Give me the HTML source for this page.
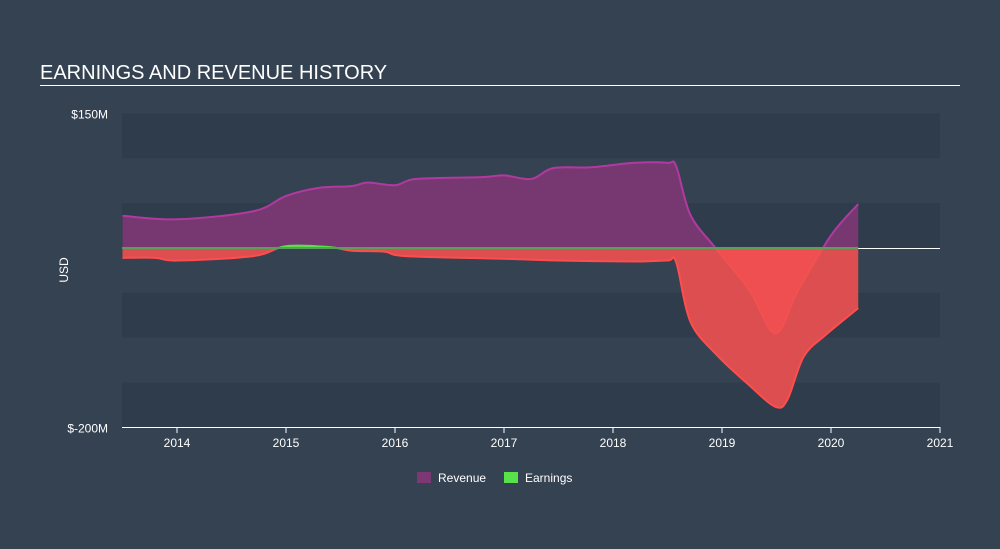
<!DOCTYPE html>
<html><head><meta charset="utf-8">
<style>
html,body{margin:0;padding:0;background:#344252;}
body{width:1000px;height:544px;overflow:hidden;font-family:"Liberation Sans",sans-serif;}
</style></head>
<body>
<svg id="chart" width="1000" height="544" xmlns="http://www.w3.org/2000/svg">
<rect width="1000" height="544" fill="#344252"/>
<text x="40" y="79" fill="#ffffff" font-size="20">EARNINGS AND REVENUE HISTORY</text>
<line x1="40" y1="85.5" x2="960" y2="85.5" stroke="#ffffff" stroke-width="1"/>
<g id="bands"></g>
<g id="areas"></g>
<g id="axes"></g>
<text x="68" y="270" fill="#ffffff" font-size="12" transform="rotate(-90 68 270)" text-anchor="middle">USD</text>
<g>
<rect x="417" y="472" width="14" height="11" fill="#7b3873"/>
<text x="438" y="482" fill="#ffffff" font-size="12">Revenue</text>
<rect x="504" y="472" width="14" height="11" fill="#58e14a"/>
<text x="525" y="482" fill="#ffffff" font-size="12">Earnings</text>
</g>
</svg>
<script>
const revT=[2013.5,2014,2014.7,2015,2015.3,2015.6,2015.75,2016,2016.2,2016.8,2017,2017.25,2017.45,2017.8,2018.2,2018.5,2018.58,2018.71,2018.94,2019.25,2019.49,2019.7,2020,2020.25];
const revV=[36,32,41,58,67,69,73,70,77,79,81,77,89,90,95,95,91,37,0,-47,-95,-47,14,49];
const earnT=[2013.5,2013.8,2014,2014.7,2015,2015.4,2015.6,2015.9,2016.1,2017,2017.5,2018.2,2018.5,2018.58,2018.71,2018.95,2019.25,2019.49,2019.6,2019.75,2019.95,2020.25];
const earnV=[-11,-11,-14,-9,2,1,-3,-4,-9,-12,-14,-15,-14,-16,-82,-119,-153,-177,-169,-121,-97,-67];
const yTicks=[150,-200];
const yTickLabels=["$150M","$-200M"];
const xTicks=[2014,2015,2016,2017,2018,2019,2020,2021];
const NS="http://www.w3.org/2000/svg";
const X=t=>177+(t-2014)*109;
const Y=v=>248-v*0.897;
const plotL=122,plotR=940;
function mk(tag,at,parent){const e=document.createElementNS(NS,tag);for(const k in at)e.setAttribute(k,at[k]);parent.appendChild(e);return e;}
const bands=document.getElementById('bands');
for(let i=0;i<7;i++){
 const y0=Y(150)+i*(Y(-200)-Y(150))/7,h=(Y(-200)-Y(150))/7;
 const r=mk('rect',{x:plotL,y:y0,width:plotR-plotL,height:h,fill:i%2==0?'#2e3c4b':'#344252'},bands);
 
 
}
function smooth(ts,vs){
 const p=ts.map((t,i)=>[X(t),Y(vs[i])]);
 let d='M'+p[0][0]+','+p[0][1];
 for(let i=0;i<p.length-1;i++){
  const p0=p[i-1]||p[i],p1=p[i],p2=p[i+1],p3=p[i+2]||p2;
  const c1=[p1[0]+(p2[0]-p0[0])/6,p1[1]+(p2[1]-p0[1])/6];
  const c2=[p2[0]-(p3[0]-p1[0])/6,p2[1]-(p3[1]-p1[1])/6];
  d+=` C${c1[0]},${c1[1]} ${c2[0]},${c2[1]} ${p2[0]},${p2[1]}`;
 }
 return {d,first:p[0],last:p[p.length-1]};
}
const areas=document.getElementById('areas');
const defs=mk('defs',{},areas);
const cpA=mk('clipPath',{id:'above'},defs);mk('rect',{x:0,y:0,width:1000,height:Y(0)},cpA);
const cpB=mk('clipPath',{id:'below'},defs);mk('rect',{x:0,y:Y(0),width:1000,height:400},cpB);
function area(ts,vs,pos,neg,linePos,lineNeg,name){
 const s=smooth(ts,vs);
 const fd=s.d+` L${s.last[0]},${Y(0)} L${s.first[0]},${Y(0)} Z`;
 const a=mk('path',{d:fd,fill:pos,'clip-path':'url(#above)'},areas);
 
 
 const b=mk('path',{d:fd,fill:neg,'clip-path':'url(#below)'},areas);
 
 
 const l=mk('path',{d:s.d,fill:'none',stroke:linePos,'stroke-width':2,'clip-path':'url(#above)'},areas);
 
 
 const l2=mk('path',{d:s.d,fill:'none',stroke:lineNeg,'stroke-width':2,'clip-path':'url(#below)'},areas);
 
 
}
area(revT,revV,'rgba(123,56,115,0.95)','rgba(255,80,80,0.9)','#b03a9f','#ff5a5a','revenue');
area(earnT,earnV,'rgba(88,225,74,0.9)','rgba(240,80,80,0.9)','#58e14a','#ff4d4d','earnings');
const axes=document.getElementById('axes');
const zl=mk('line',{x1:plotL,x2:X(2020.25),y1:Y(0),y2:Y(0),stroke:'#58a05a','stroke-width':2},axes);


const zl2=mk('line',{x1:X(2020.25),x2:plotR,y1:Y(0)+0.5,y2:Y(0)+0.5,stroke:'#ffffff','stroke-width':1},axes);


yTicks.forEach((v,i)=>{
 const t=mk('text',{x:108,y:Y(v)+5,fill:'#ffffff','font-size':12,'text-anchor':'end'},axes);
 t.textContent=yTickLabels[i];
 
 
});
const xa=mk('line',{x1:plotL,x2:plotR,y1:427.5,y2:427.5,stroke:'#ffffff','stroke-width':1},axes);


xTicks.forEach(v=>{
 const tk=mk('line',{x1:X(v),x2:X(v),y1:427,y2:433,stroke:'#ffffff','stroke-width':1},axes);
 
 
 const t=mk('text',{x:X(v),y:447,fill:'#ffffff','font-size':12,'text-anchor':'middle'},axes);
 t.textContent=v;
 
 
});
</script>
</body></html>
